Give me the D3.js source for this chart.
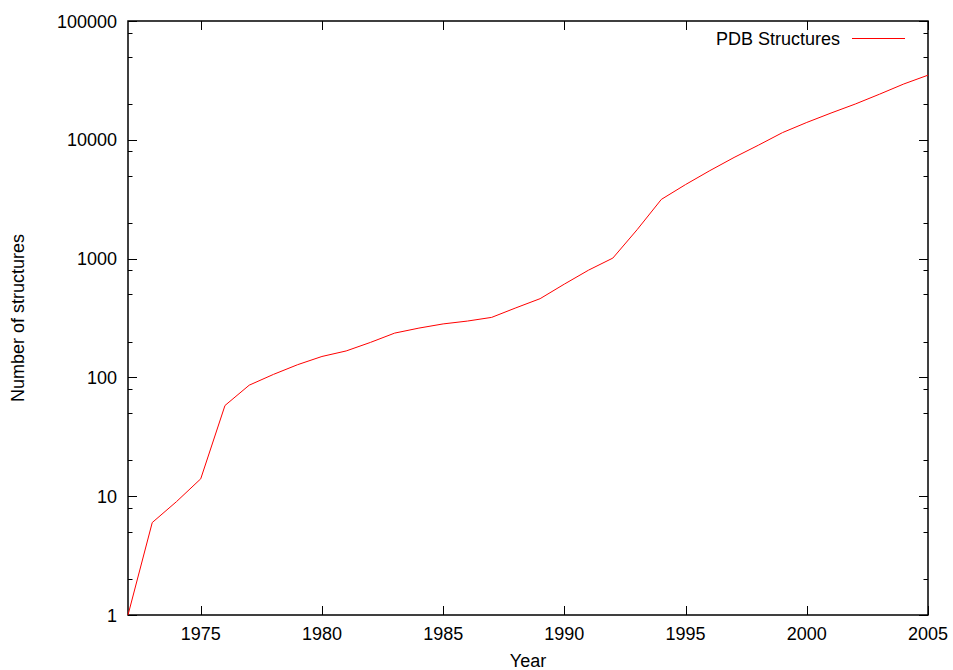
<!DOCTYPE html>
<html>
<head>
<meta charset="utf-8">
<script src="https://cdn.jsdelivr.net/npm/d3@7"></script>
<style>
  body { margin: 0; background: #fff; }
  svg text { font-family: "Liberation Sans", Arial, sans-serif; font-size: 18px; fill: #000; }
</style>
</head>
<body>
<div id="chart"></div>
<script>
// PDB structures per year
const years = [1972, 1973, 1974, 1975, 1976, 1977, 1978, 1979, 1980, 1981, 1982, 1983, 1984, 1985, 1986, 1987, 1988,
  1989, 1990, 1991, 1992, 1993, 1994, 1995, 1996, 1997, 1998, 1999, 2000, 2001, 2002, 2003, 2004, 2005];
const structures = [1, 6, 9, 14, 58, 86, 106, 128, 150, 167, 197, 236, 260, 282, 298, 320, 385,
  460, 610, 800, 1010, 1750, 3150, 4200, 5500, 7100, 9000, 11500, 14000, 16800, 20000, 24200, 29500, 35000];
const xTicks = [1975, 1980, 1985, 1990, 1995, 2000, 2005];
const yTicks = [1, 10, 100, 1000, 10000, 100000];
const seriesName = "PDB Structures";

const W = 953, H = 670;
const margin = { left: 128, right: 25, top: 21, bottom: 55 };

const svg = d3.select("#chart").append("svg")
  .attr("width", W).attr("height", H);

const x = d3.scaleLinear().domain([1972, 2005]).range([margin.left, W - margin.right]);
const y = d3.scaleLog().domain([1, 100000]).range([H - margin.bottom, margin.top]);

// minor ticks at 2, 5, 8 of each decade
const minor = [];
yTicks.slice(0, -1).forEach(d => [2, 5, 8].forEach(m => minor.push(d * m)));

const x0 = margin.left, x1 = W - margin.right, y0 = H - margin.bottom, y1 = margin.top;

const ticks = svg.append("g").attr("stroke", "#000").attr("stroke-width", 1);
xTicks.forEach(t => {
  const px = Math.round(x(t)) + 0.5;
  ticks.append("line").attr("x1", px).attr("x2", px).attr("y1", y0).attr("y2", y0 - 9);
  ticks.append("line").attr("x1", px).attr("x2", px).attr("y1", y1).attr("y2", y1 + 9);
});
yTicks.forEach(t => {
  const py = Math.round(y(t)) + 0.5;
  ticks.append("line").attr("x1", x0).attr("x2", x0 + 9).attr("y1", py).attr("y2", py);
  ticks.append("line").attr("x1", x1).attr("x2", x1 - 9).attr("y1", py).attr("y2", py);
});
minor.forEach(t => {
  const py = Math.round(y(t)) + 0.5;
  ticks.append("line").attr("x1", x0).attr("x2", x0 + 4.5).attr("y1", py).attr("y2", py);
  ticks.append("line").attr("x1", x1).attr("x2", x1 - 4.5).attr("y1", py).attr("y2", py);
});

svg.append("rect")
  .attr("x", x0).attr("y", y1).attr("width", x1 - x0).attr("height", y0 - y1)
  .attr("fill", "none").attr("stroke", "#000").attr("stroke-width", 1.5);

svg.append("g").selectAll("text").data(xTicks).enter().append("text")
  .attr("x", d => x(d)).attr("y", y0 + 24.5)
  .attr("text-anchor", "middle").text(d => d);

svg.append("g").selectAll("text").data(yTicks).enter().append("text")
  .attr("x", x0 - 11).attr("y", d => y(d) + 6.5)
  .attr("text-anchor", "end").text(d => d);

svg.append("text").attr("x", (x0 + x1) / 2).attr("y", H - 3.5)
  .attr("text-anchor", "middle").text("Year");
svg.append("text")
  .attr("transform", `translate(24,${(y0 + y1) / 2}) rotate(-90)`)
  .attr("text-anchor", "middle").text("Number of structures");

const line = d3.line().x((d, i) => x(years[i])).y(d => y(d));
svg.append("path").datum(structures)
  .attr("d", line).attr("fill", "none").attr("stroke", "#ff0000").attr("stroke-width", 1);

// legend
svg.append("text").attr("x", 840).attr("y", 45).attr("text-anchor", "end").text(seriesName);
svg.append("line").attr("x1", 852).attr("x2", 905).attr("y1", 38.5).attr("y2", 38.5)
  .attr("stroke", "#ff0000").attr("stroke-width", 1);
</script>
</body>
</html>
